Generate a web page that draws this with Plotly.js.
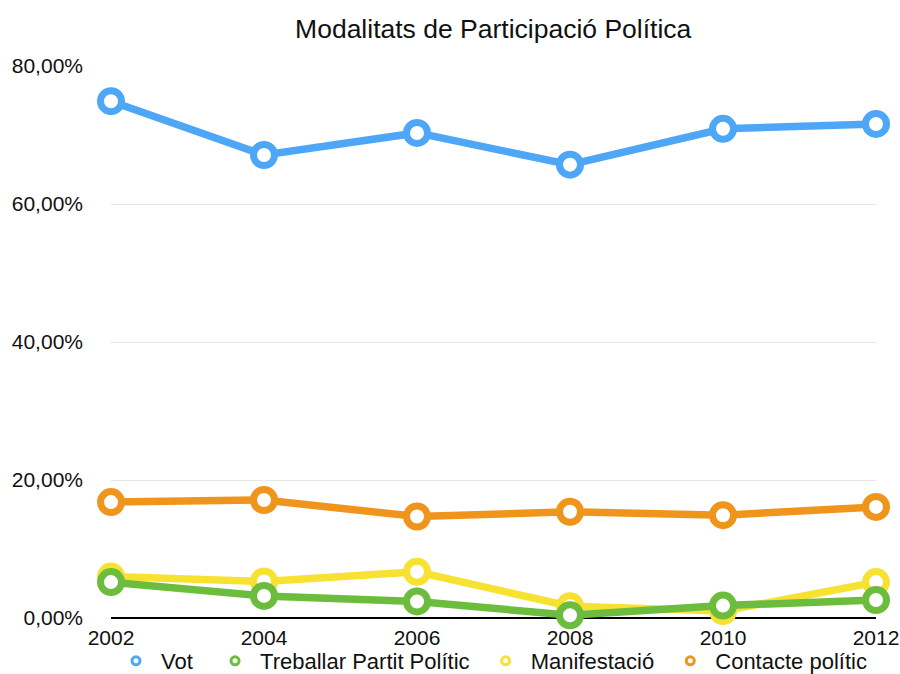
<!DOCTYPE html>
<html>
<head>
<meta charset="utf-8">
<script src="https://cdn.plot.ly/plotly-3.0.1.min.js"></script>
<style>html,body{margin:0;padding:0;background:#fff;}#chart{width:900px;height:674px;}</style>
</head>
<body>
<div id="chart"></div>
<script>
const years = [2002, 2004, 2006, 2008, 2010, 2012];
const seriesNames = ["Vot", "Treballar Partit Polític", "Manifestació", "Contacte polític"];
const vot = [74.9, 67.1, 70.3, 65.7, 70.9, 71.6];
const treballar = [5.2, 3.2, 2.4, 0.4, 1.8, 2.6];
const manifestacio = [6.0, 5.3, 6.7, 1.7, 1.0, 5.2];
const contacte = [16.8, 17.1, 14.7, 15.4, 14.9, 16.1];
const colors = ["#4ea7f6", "#6cbd3e", "#f8e231", "#f0951c"];
const yTickVals = [0, 20, 40, 60, 80];
const yTickText = ["0,00%", "20,00%", "40,00%", "60,00%", "80,00%"];
const xTickText = ["2002", "2004", "2006", "2008", "2010", "2012"];

const order = [contacte, manifestacio, treballar, vot];
const orderIdx = [3, 2, 1, 0];
const legendPad = ["\u00a0\u00a0", "\u00a0", "\u00a0", ""];
const traces = [];
orderIdx.forEach((k, i) => {
  traces.push({
    x: years, y: order[i], type: "scatter", mode: "lines+markers",
    name: seriesNames[k], showlegend: false, cliponaxis: false,
    line: {color: colors[k], width: 7.5},
    marker: {symbol: "circle", size: 21, color: "#ffffff", line: {color: colors[k], width: 7}}
  });
});
[0, 1, 2, 3].forEach(k => {
  traces.push({
    x: [null], y: [null], type: "scatter", mode: "markers",
    name: seriesNames[k] + legendPad[k], showlegend: true,
    marker: {symbol: "circle", size: 8, color: "#ffffff", line: {color: colors[k], width: 3}}
  });
});

const layout = {
  width: 900, height: 674,
  margin: {l: 111, r: 24, t: 66, b: 56, autoexpand: false},
  paper_bgcolor: "#ffffff", plot_bgcolor: "#ffffff",
  font: {family: "Liberation Sans, Arial, sans-serif", color: "#111111", size: 21},
  title: {text: "Modalitats de Participació Política", x: 0.548, xanchor: "center", y: 0.958, yanchor: "middle",
          font: {size: 26.5, color: "#111111"}},
  xaxis: {range: [2002, 2012], tickvals: years, ticktext: xTickText, showgrid: false, zeroline: false,
          showline: false, ticks: "", tickfont: {size: 21}, ticklabelstandoff: 5, automargin: false},
  yaxis: {range: [0, 80], tickvals: yTickVals, ticktext: yTickText, showgrid: true, gridcolor: "#e6e6e6",
          gridwidth: 1, zeroline: true, zerolinecolor: "#000000", zerolinewidth: 2, showline: false, ticks: "",
          tickfont: {size: 21}, ticklabelstandoff: 27, automargin: false},
  legend: {orientation: "h", x: 0, xanchor: "left", y: -0.078, yanchor: "middle",
           font: {size: 22}, itemwidth: 40, bgcolor: "rgba(0,0,0,0)", traceorder: "normal"},
  showlegend: true
};
Plotly.newPlot("chart", traces, layout, {displayModeBar: false, staticPlot: true});
</script>
</body>
</html>
